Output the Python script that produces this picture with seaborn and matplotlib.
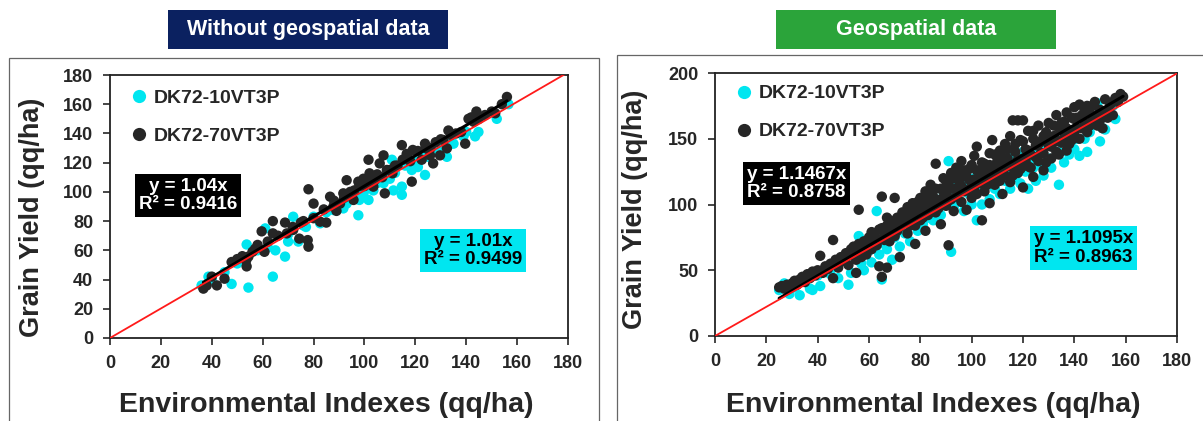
import numpy as np
import pandas as pd
import matplotlib
matplotlib.use("Agg")
import matplotlib.pyplot as plt
import seaborn as sns
from matplotlib.patches import Rectangle

sns.set_style("ticks")
plt.rcParams['font.family'] = ['Liberation Sans', 'DejaVu Sans']
plt.rcParams['font.weight'] = 'bold'

hybrids = ["DK72-10VT3P", "DK72-70VT3P"]
palette = {"DK72-10VT3P": "#00e6f0", "DK72-70VT3P": "#262626"}
titles = ["Without geospatial data", "Geospatial data"]
title_colors = ["#0b2160", "#2ba43a"]

# fitted slopes (trend through origin) and R2
slopes_no_geo = {"DK72-10VT3P": 1.01, "DK72-70VT3P": 1.04}
r2_no_geo = {"DK72-10VT3P": 0.9499, "DK72-70VT3P": 0.9416}
slopes_geo = {"DK72-10VT3P": 1.1095, "DK72-70VT3P": 1.1467}
r2_geo = {"DK72-10VT3P": 0.8963, "DK72-70VT3P": 0.8758}

# (environmental index, grain yield) pairs
no_geo_10 = [(36, 36), (38.7, 42), (40, 40), (45, 45), (47.8, 37), (50, 51), (54.4, 34.5), (53.7, 64),
             (58, 60), (61, 75), (62, 62), (64, 42), (65, 60), (68.8, 55.7), (70, 66), (70, 71), (72, 83),
             (74, 66), (76, 77), (77, 76), (80, 83), (82.6, 78.5), (85, 86), (87.8, 87.6), (90, 91),
             (91.7, 88.7), (93, 92), (95, 96), (97.6, 84), (98, 94.5), (99.6, 99), (100, 101), (101.6, 94.5),
             (103.5, 101), (105, 106), (107.5, 106), (108, 109), (110, 109), (110.8, 122), (111.4, 101),
             (112, 113), (114.7, 98), (114.7, 103.6), (116, 118), (118.6, 115), (120, 121), (121, 117),
             (123.8, 111.6), (124, 125), (125, 124), (128, 129), (130, 131), (132.4, 124), (134, 133),
             (135, 133), (138.9, 138), (140, 141), (143.5, 138), (144.8, 141), (152, 150), (156.6, 160)]

no_geo_70 = [(36.7, 33.8), (38, 36), (42, 36), (45, 40.6), (47.8, 52), (53.5, 53), (53.7, 49), (54.4, 55.7),
             (56, 59), (58, 63.7), (59.6, 73), (60.7, 59), (64, 80), (64, 71.6), (68.8, 79), (69.5, 71.6),
             (71.8, 76), (74.4, 68), (75, 79), (77.7, 67), (78, 62.5), (78, 101.8), (80, 92), (82.6, 79.6),
             (85, 79), (86.5, 96.7), (87.8, 90), (90.4, 92), (91.7, 99), (93, 108), (94.4, 100), (95.7, 94.5),
             (97.6, 107), (99.6, 109), (101.6, 122), (102, 112.7), (103.5, 103.6), (106, 119.5), (107.5, 125),
             (108, 99), (108.8, 115), (111, 112.7), (114.7, 132), (115, 122), (116.6, 126), (118.6, 107),
             (119, 128.7), (122.5, 122), (123.8, 133), (125.8, 125), (127, 119.5), (129.7, 125), (131, 135.5),
             (132.4, 129.8), (133, 142), (138, 141), (139.6, 133), (140.9, 150), (142.9, 148), (144, 155),
             (147.4, 152.6), (151.4, 153.8), (156, 165), (40, 42), (50, 54), (52, 56), (57, 61), (62, 66),
             (66, 70), (72, 74), (76, 80), (80, 82), (84, 88), (88, 94), (89, 87), (92, 96), (96, 101),
             (98, 104), (100, 104), (101, 108), (104, 108), (105, 112), (107, 110), (110, 115), (112, 118),
             (113, 118), (117, 124), (118, 121), (121, 128), (124, 130), (126, 130), (128, 134), (130, 136),
             (134, 139), (136, 140), (142, 151), (145, 150), (150, 155), (154, 160)]

geo_10 = [(25, 35), (27, 40), (29, 32), (31, 37), (33, 31), (35, 42), (37, 36), (38, 35), (40, 46), (41, 38),
          (43, 50), (45, 47), (47, 53), (48, 44), (50, 58), (52, 39), (53, 48), (55, 62), (56, 76), (57, 55),
          (58, 50), (60, 65), (61, 56), (62, 72), (63, 95), (64, 62), (65, 43), (66, 70), (67, 66), (68, 80),
          (69, 58), (70, 75), (71, 88), (72, 68), (73, 82), (74, 78), (75, 92), (76, 72), (77, 86), (78, 98),
          (79, 80), (80, 92), (81, 85), (82, 100), (83, 90), (84, 96), (85, 88), (86, 104), (87, 98), (88, 92),
          (89, 110), (90, 100), (91, 133), (92, 64), (92, 105), (93, 98), (94, 115), (95, 102), (96, 110),
          (97, 95), (98, 118), (99, 108), (100, 100), (101, 120), (102, 88), (103, 112), (104, 100), (105, 125),
          (106, 115), (107, 104), (108, 128), (109, 112), (110, 122), (111, 108), (112, 132), (113, 118),
          (114, 126), (115, 112), (116, 136), (117, 121), (118, 130), (119, 116), (120, 140), (121, 125),
          (122, 112), (123, 135), (124, 128), (125, 118), (126, 142), (127, 130), (128, 122), (129, 145),
          (130, 135), (131, 128), (132, 150), (134, 115), (134, 140), (136, 132), (137, 146), (138, 138),
          (140, 142), (141, 150), (142, 137), (144, 150), (145, 140), (146, 155), (148, 162), (149, 177),
          (150, 148), (151, 158), (152, 157), (154, 168), (155, 175), (156, 165), (157, 178)]

geo_70 = [(25, 37), (26, 38), (27, 36), (28, 39), (29, 38), (30, 40), (31, 42), (32, 39), (33, 43), (34, 45),
          (35, 41), (36, 47), (37, 44), (38, 49), (39, 46), (40, 50), (41, 61), (42, 48), (43, 53), (44, 51),
          (45, 55), (46, 44), (46, 73), (47, 58), (48, 52), (49, 60), (50, 57), (51, 63), (52, 54), (53, 66),
          (54, 61), (55, 48), (55, 58), (56, 96), (56, 70), (57, 65), (58, 72), (59, 62), (60, 75), (60, 67),
          (61, 79), (62, 70), (63, 74), (64, 81), (64, 53), (65, 45), (65, 106), (66, 77), (67, 84), (67, 52),
          (68, 72), (68, 88), (69, 80), (70, 105), (70, 76), (71, 90), (72, 83), (72, 60), (73, 94), (74, 86),
          (75, 78), (75, 98), (76, 91), (77, 101), (78, 84), (78, 70), (79, 95), (80, 88), (80, 105), (81, 97),
          (82, 110), (82, 80), (83, 92), (84, 100), (84, 115), (85, 106), (86, 131), (86, 94), (87, 103),
          (88, 112), (88, 85), (89, 120), (90, 99), (90, 108), (91, 69), (91, 116), (92, 104), (92, 124),
          (93, 95), (94, 112), (94, 128), (95, 118), (96, 102), (96, 133), (97, 110), (98, 121), (98, 96),
          (99, 127), (100, 114), (100, 105), (101, 137), (101, 119), (102, 144), (102, 108), (103, 125),
          (104, 88), (104, 116), (105, 131), (105, 110), (106, 122), (107, 139), (107, 101), (108, 149),
          (108, 127), (109, 115), (110, 133), (110, 120), (111, 141), (112, 108), (112, 129), (113, 146),
          (113, 122), (114, 135), (115, 117), (115, 152), (116, 164), (116, 128), (117, 140), (118, 164),
          (118, 124), (119, 149), (120, 164), (120, 135), (120, 113), (121, 142), (122, 129), (122, 156),
          (123, 138), (124, 150), (124, 121), (125, 145), (126, 133), (126, 160), (127, 148), (128, 139),
          (128, 126), (129, 155), (130, 145), (130, 162), (131, 135), (132, 152), (133, 168), (133, 140),
          (134, 158), (135, 147), (136, 163), (137, 141), (137, 170), (138, 155), (139, 149), (140, 165),
          (140, 174), (141, 158), (142, 176), (142, 150), (143, 168), (144, 162), (145, 175), (145, 155),
          (146, 170), (147, 164), (148, 178), (149, 160), (150, 172), (151, 158), (152, 180), (153, 171),
          (154, 176), (155, 168), (156, 181), (157, 178), (158, 184), (159, 182),
          (52, 62), (54, 68), (57, 60), (59, 71), (61, 66), (62, 78), (63, 69), (65, 82), (66, 73), (67, 90),
          (69, 76), (70, 85), (71, 80), (73, 88), (74, 93), (76, 84), (77, 95), (78, 90), (79, 102), (80, 96),
          (81, 90), (82, 103), (83, 98), (84, 108), (85, 95), (86, 112), (87, 97), (88, 104), (89, 110),
          (90, 118), (91, 103), (92, 112), (93, 120), (94, 106), (95, 124), (96, 114), (97, 126), (98, 111),
          (99, 119), (100, 130), (101, 112), (102, 126), (103, 118), (104, 132), (105, 124), (106, 115),
          (107, 130), (108, 120), (109, 138), (110, 126), (111, 118), (112, 136), (113, 128), (114, 142),
          (115, 130), (116, 122), (117, 146), (118, 134), (119, 127), (120, 148), (121, 133), (122, 141),
          (123, 128), (124, 156), (125, 136), (126, 146), (127, 139), (128, 152), (129, 132), (130, 150),
          (131, 144), (132, 160), (133, 148), (134, 138), (135, 162), (136, 151), (137, 158), (138, 146),
          (139, 166), (140, 155), (141, 166), (143, 158), (144, 172), (146, 160), (147, 175), (149, 168),
          (150, 164), (152, 170), (153, 166), (155, 178)]


def to_df(pts10, pts70):
    rows = [(x, y, hybrids[0]) for x, y in pts10] + [(x, y, hybrids[1]) for x, y in pts70]
    return pd.DataFrame(rows, columns=["EI", "GY", "Hybrid"])


def draw_panel(ax, df, slopes, r2, ymax, ystep, leg_y):
    sns.scatterplot(data=df, x="EI", y="GY", hue="Hybrid", hue_order=hybrids, palette=palette,
                    s=56, linewidth=0, alpha=1, ax=ax, zorder=3)
    # trend line of DK72-10VT3P, extended over the whole axis (red)
    xs = np.array([0, 180])
    ax.plot(xs, slopes[hybrids[0]] * xs, color="#ff1a1a", lw=1.3, zorder=5)
    # trend line of DK72-70VT3P over its data range (black)
    d = df[df.Hybrid == hybrids[1]]
    xr = np.array([d.EI.min(), d.EI.max()])
    ax.plot(xr, slopes[hybrids[1]] * xr, color="black", lw=2.2, zorder=4)

    ax.set_xlim(0, 180)
    ax.set_ylim(0, ymax)
    ax.set_xticks(range(0, 181, 20))
    ax.set_yticks(range(0, ymax + 1, ystep))
    ax.tick_params(labelsize=13, length=5, width=1.2, pad=7)
    for lab in ax.get_xticklabels() + ax.get_yticklabels():
        lab.set_fontweight("bold")
    for sp in ax.spines.values():
        sp.set_visible(True)
        sp.set_linewidth(1.3)
        sp.set_color("#222222")
    ax.set_xlabel("Environmental Indexes (qq/ha)", fontsize=20.5, fontweight="bold")
    ax.set_ylabel("Grain Yield (qq/ha)", fontsize=19.5, fontweight="bold")

    handles, labels = ax.get_legend_handles_labels()
    for h in handles:
        h.set_markersize(9.5)
    ax.legend(handles, labels, loc="upper left", bbox_to_anchor=(0.042, leg_y), frameon=False,
              prop={"weight": "bold", "size": 14}, labelspacing=1.05, handletextpad=0.25,
              handlelength=1.0, borderaxespad=0, borderpad=0)

    eq_black = f"y = {slopes[hybrids[1]]:g}x\nR² = {r2[hybrids[1]]:.4f}"
    eq_cyan = f"y = {slopes[hybrids[0]]:g}x\nR² = {r2[hybrids[0]]:.4f}"
    return eq_black, eq_cyan


fig = plt.figure(figsize=(12.03, 4.21), dpi=100)
ax1 = fig.add_axes([110 / 1203, 1 - 338 / 421, 458 / 1203, 263 / 421])
ax2 = fig.add_axes([715 / 1203, 1 - 336 / 421, 462 / 1203, 263 / 421])

eb1, ec1 = draw_panel(ax1, to_df(no_geo_10, no_geo_70), slopes_no_geo, r2_no_geo, 180, 20, 0.945)
eb2, ec2 = draw_panel(ax2, to_df(geo_10, geo_70), slopes_geo, r2_geo, 200, 50, 0.955)

ax1.yaxis.set_label_coords(-0.142, 0.46)
ax2.yaxis.set_label_coords(-0.146, 0.48)
ax1.xaxis.set_label_coords(0.472, -0.205)
ax2.xaxis.set_label_coords(0.472, -0.212)

box_kw = dict(fontsize=13.5, fontweight="bold", ha="center", va="center", linespacing=1.1, zorder=6)
ax1.text(0.170, 0.542, eb1, transform=ax1.transAxes, color="white",
         bbox=dict(facecolor="black", edgecolor="none", boxstyle="square,pad=0.22"), **box_kw)
ax1.text(0.7926, 0.333, ec1, transform=ax1.transAxes, color="black",
         bbox=dict(facecolor="#00e6f0", edgecolor="none", boxstyle="square,pad=0.22"), **box_kw)
ax2.text(0.176, 0.580, eb2, transform=ax2.transAxes, color="white",
         bbox=dict(facecolor="black", edgecolor="none", boxstyle="square,pad=0.22"), **box_kw)
ax2.text(0.7976, 0.335, ec2, transform=ax2.transAxes, color="black",
         bbox=dict(facecolor="#00e6f0", edgecolor="none", boxstyle="square,pad=0.22"), **box_kw)

# panel frames
fig.add_artist(Rectangle((9 / 1203, -0.05), 590 / 1203, 1.05 - 58 / 421, transform=fig.transFigure,
                         fill=False, edgecolor="#666666", lw=0.9))
fig.add_artist(Rectangle((617 / 1203, -0.05), 600 / 1203, 1.05 - 55 / 421, transform=fig.transFigure,
                         fill=False, edgecolor="#666666", lw=0.9))

# title boxes
for (x0, x1), title, col in zip([(168, 448), (776, 1056)], titles, title_colors):
    fig.add_artist(Rectangle((x0 / 1203, 1 - 49 / 421), (x1 - x0) / 1203, 39 / 421,
                             transform=fig.transFigure, facecolor=col, edgecolor="none"))
    fig.text((x0 + x1) / 2 / 1203, 1 - 29.5 / 421, title, color="white", fontsize=15.5,
             fontweight="bold", ha="center", va="center")

fig.savefig("out.png", dpi=100)
